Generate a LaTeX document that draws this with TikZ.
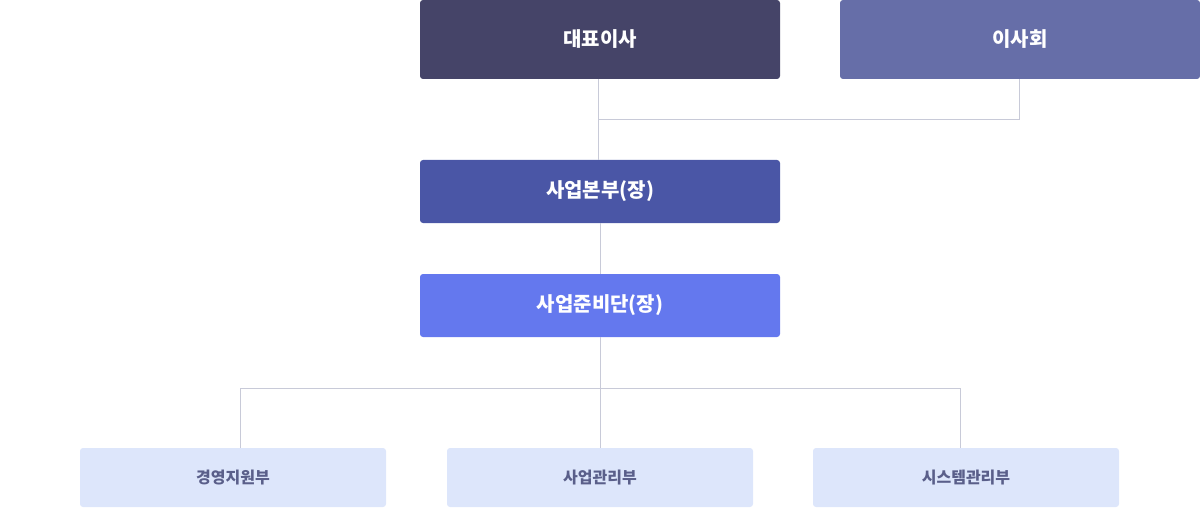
\documentclass[tikz,border=0pt]{standalone}
\usepackage{fontspec}
\setmainfont{Noto Sans CJK KR}
\definecolor{cA}{HTML}{454468}
\definecolor{cB}{HTML}{666EA8}
\definecolor{cC}{HTML}{4A56A6}
\definecolor{cD}{HTML}{6478EE}
\definecolor{cE}{HTML}{DDE6FB}
\definecolor{cT}{HTML}{5A5F8A}
\definecolor{cL}{HTML}{C8CAD8}
\begin{document}
\begin{tikzpicture}[x=1pt,y=-1pt,
  top/.style={rounded corners=3pt,text=white,font=\bfseries\fontsize{20}{24}\selectfont,inner sep=0},
  sub/.style={rounded corners=3pt,fill=cE,text=cT,font=\bfseries\fontsize{16}{20}\selectfont,inner sep=0},
  conn/.style={draw=cL,line width=1pt}]
\useasboundingbox (0,0) rectangle (1200,508);
\filldraw[top,fill=cA,draw=none] (420,0) rectangle (780,79) node[midway] (ceo) {대표이사};
\filldraw[top,fill=cB,draw=none] (840,0) rectangle (1200,79) node[midway] (board) {이사회};
\filldraw[top,fill=cC,draw=none] (420,160) rectangle (780,223) node[midway] (hq) {사업본부(장)};
\filldraw[top,fill=cD,draw=none] (420,274) rectangle (780,337) node[midway] (prep) {사업준비단(장)};
\filldraw[sub,draw=none] (80,448) rectangle (386,507) node[midway] (s1) {경영지원부};
\filldraw[sub,draw=none] (447,448) rectangle (753,507) node[midway] (s2) {사업관리부};
\filldraw[sub,draw=none] (813,448) rectangle (1119,507) node[midway] (s3) {시스템관리부};
\coordinate (j1) at (598,120);
\coordinate (j2) at (1019,120);
\draw[conn] (598,79) -- (598,160);
\draw[conn] (j1) -- (j2) -- (1019,79);
\draw[conn] (600,223) -- (600,274);
\draw[conn] (600,337) -- (600,448);
\draw[conn] (240,448) -- (240,388) -- (960,388) -- (960,448);
\end{tikzpicture}
\end{document}
